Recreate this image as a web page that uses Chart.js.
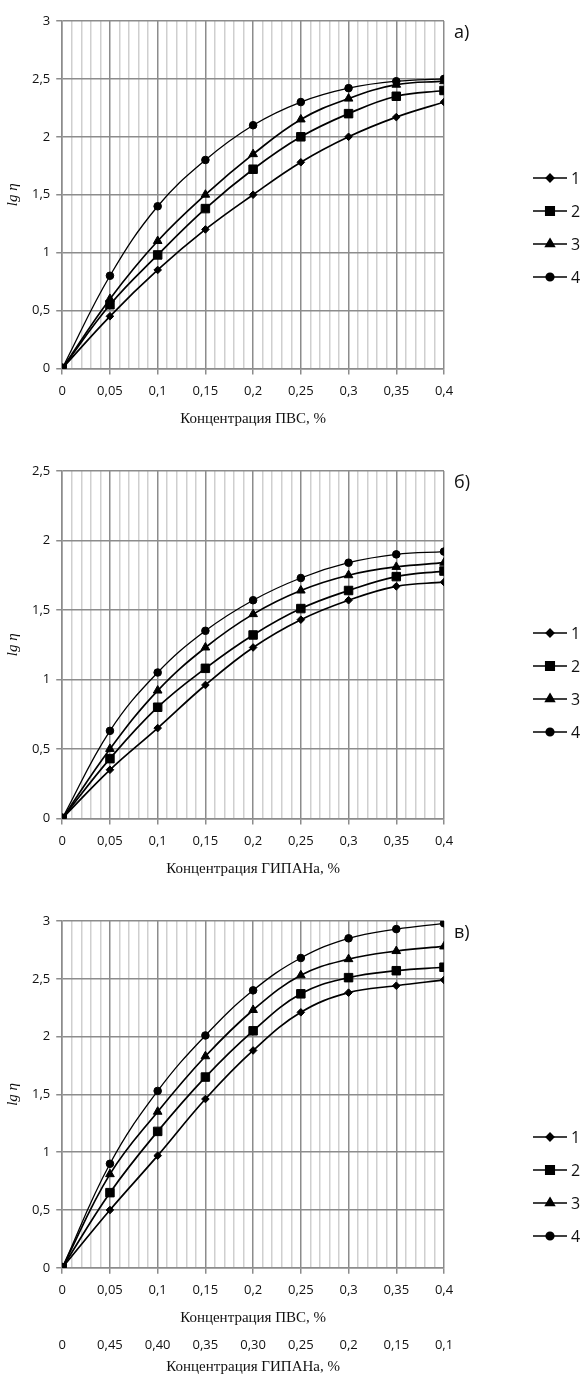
<!DOCTYPE html>
<html>
<head>
<meta charset="utf-8">
<script src="https://cdn.jsdelivr.net/npm/chart.js@4"></script>
<style>
  body { margin: 0; background: #fff; }
  .box { position: absolute; left: 0; }
</style>
</head>
<body>
<div class="box" style="top:0px"><canvas id="chartA" width="582" height="432"></canvas></div>
<div class="box" style="top:440px"><canvas id="chartB" width="582" height="442"></canvas></div>
<div class="box" style="top:890px"><canvas id="chartC" width="582" height="490"></canvas></div>
<script>
// concentrations (x) and second axis labels for chart в)
const conc = [0, 0.05, 0.1, 0.15, 0.2, 0.25, 0.3, 0.35, 0.4];
const gipanTicks = ['0', '0,45', '0,40', '0,35', '0,30', '0,25', '0,2', '0,15', '0,1'];
const seriesNames = ['1', '2', '3', '4'];

// а) lg η vs ПВС
const pvs1 = [0, 0.45, 0.85, 1.2, 1.5, 1.78, 2.0, 2.17, 2.3];
const pvs2 = [0, 0.55, 0.98, 1.38, 1.72, 2.0, 2.2, 2.35, 2.4];
const pvs3 = [0, 0.6, 1.1, 1.5, 1.85, 2.15, 2.33, 2.45, 2.48];
const pvs4 = [0, 0.8, 1.4, 1.8, 2.1, 2.3, 2.42, 2.48, 2.5];

// б) lg η vs ГИПАН
const gipan1 = [0, 0.35, 0.65, 0.96, 1.23, 1.43, 1.57, 1.67, 1.7];
const gipan2 = [0, 0.43, 0.8, 1.08, 1.32, 1.51, 1.64, 1.74, 1.78];
const gipan3 = [0, 0.5, 0.92, 1.23, 1.47, 1.64, 1.75, 1.81, 1.84];
const gipan4 = [0, 0.63, 1.05, 1.35, 1.57, 1.73, 1.84, 1.9, 1.92];

// в) mixture ПВС + ГИПАН
const mix1 = [0, 0.5, 0.97, 1.46, 1.88, 2.21, 2.38, 2.44, 2.49];
const mix2 = [0, 0.65, 1.18, 1.65, 2.05, 2.37, 2.51, 2.57, 2.6];
const mix3 = [0, 0.81, 1.35, 1.83, 2.23, 2.53, 2.67, 2.74, 2.78];
const mix4 = [0, 0.9, 1.53, 2.01, 2.4, 2.68, 2.85, 2.93, 2.98];

const markers = [
  { pointStyle: 'rectRot', radius: 3.8 },
  { pointStyle: 'rect', radius: 6 },
  { pointStyle: 'triangle', radius: 5 },
  { pointStyle: 'circle', radius: 3.8 }
];

const tickFont = { family: 'Open Sans', size: 13 };
const serifFont = { family: 'Liberation Serif', size: 15 };
const majorGrid = '#8c8c8c';
const minorGrid = '#cfcfcf';

function isMajor(v) {
  return Math.round(v * 100) % 5 === 0;
}
function comma(v) {
  return String(+v.toFixed(2)).replace('.', ',');
}

// legend on the right: line + marker + number
const sideLegend = {
  id: 'sideLegend',
  afterDraw(chart, args, opts) {
    const ctx = chart.ctx;
    const area = chart.chartArea;
    ctx.save();
    // panel letter
    ctx.font = '18px "Open Sans"';
    ctx.fillStyle = '#111';
    ctx.textBaseline = 'middle';
    ctx.textAlign = 'left';
    ctx.fillText(opts.panel, area.right + 10, area.top + 12);

    chart.data.datasets.forEach(function(ds, i) {
      const y = opts.top + i * 33;
      ctx.strokeStyle = '#000';
      ctx.lineWidth = 1.6;
      ctx.beginPath();
      ctx.moveTo(533, y);
      ctx.lineTo(567, y);
      ctx.stroke();
      ctx.fillStyle = '#000';
      Chart.helpers.drawPoint(ctx, {
        pointStyle: ds.pointStyle, radius: ds.pointRadius, rotation: 0, borderWidth: 1
      }, 550, y);
      ctx.fillStyle = '#111';
      ctx.font = '16px "Open Sans"';
      ctx.fillText(ds.label, 571, y + 1);
    });
    ctx.restore();
  }
};

function makeChart(id, series, yMax, panel, legendTop, padTop, extraAxis) {
  const datasets = series.map(function(vals, i) {
    return {
      label: seriesNames[i],
      data: conc.map(function(x, k) { return { x: x, y: vals[k] }; }),
      borderColor: '#000',
      backgroundColor: '#000',
      borderWidth: i === 3 ? 1.3 : 1.7,
      pointStyle: markers[i].pointStyle,
      pointRadius: markers[i].radius,
      pointBorderWidth: 1,
      tension: 0.4
    };
  });

  const scales = {
    x: {
      type: 'linear',
      min: 0,
      max: 0.4,
      ticks: {
        stepSize: 0.01,
        maxTicksLimit: 100,
        autoSkip: false,
        maxRotation: 0,
        padding: 9,
        font: tickFont,
        color: '#111',
        callback: function(v) { return isMajor(v) ? comma(v) : ''; }
      },
      grid: {
        color: function(c) { return c.tick && isMajor(c.tick.value) ? majorGrid : minorGrid; },
        tickColor: function(c) { return c.tick && isMajor(c.tick.value) ? majorGrid : 'rgba(0,0,0,0)'; },
        lineWidth: 1.5,
        tickLength: 6
      },
      border: { color: majorGrid, width: 1.5 },
      title: {
        display: true,
        text: 'Концентрация ПВС, %',
        font: serifFont,
        color: '#111',
        padding: { top: 2, bottom: 0 }
      }
    },
    y: {
      min: 0,
      max: yMax,
      ticks: {
        stepSize: 0.5,
        padding: 6,
        font: tickFont,
        color: '#111',
        callback: function(v) { return comma(v); }
      },
      grid: { color: majorGrid, lineWidth: 1.5, tickLength: 6 },
      border: { color: majorGrid, width: 1.5 },
      title: {
        display: true,
        text: 'lg η',
        font: { family: 'Liberation Serif', size: 15, style: 'italic' },
        color: '#111',
        padding: { top: 0, bottom: 4 }
      }
    }
  };
  if (panel === 'б)') {
    scales.x.title.text = 'Концентрация ГИПАНа, %';
  }
  if (extraAxis) {
    scales.x2 = {
      type: 'category',
      position: 'bottom',
      labels: gipanTicks,
      offset: false,
      grid: { display: false },
      border: { display: false },
      ticks: { font: tickFont, color: '#111', padding: 2, maxRotation: 0, autoSkip: false },
      title: {
        display: true,
        text: 'Концентрация ГИПАНа, %',
        font: serifFont,
        color: '#111',
        padding: { top: 3, bottom: 0 }
      }
    };
  }

  return new Chart(document.getElementById(id).getContext('2d'), {
    type: 'line',
    data: { datasets: datasets },
    options: {
      responsive: false,
      animation: false,
      layout: { padding: { top: padTop, right: 138, left: 4, bottom: 4 } },
      plugins: {
        legend: { display: false },
        tooltip: { enabled: false },
        sideLegend: { panel: panel, top: legendTop }
      },
      scales: scales
    },
    plugins: [sideLegend]
  });
}

makeChart('chartA', [pvs1, pvs2, pvs3, pvs4], 3, 'а)', 178, 21, false);
makeChart('chartB', [gipan1, gipan2, gipan3, gipan4], 2.5, 'б)', 193, 31, false);
makeChart('chartC', [mix1, mix2, mix3, mix4], 3, 'в)', 247, 31, true);
</script>
</body>
</html>
